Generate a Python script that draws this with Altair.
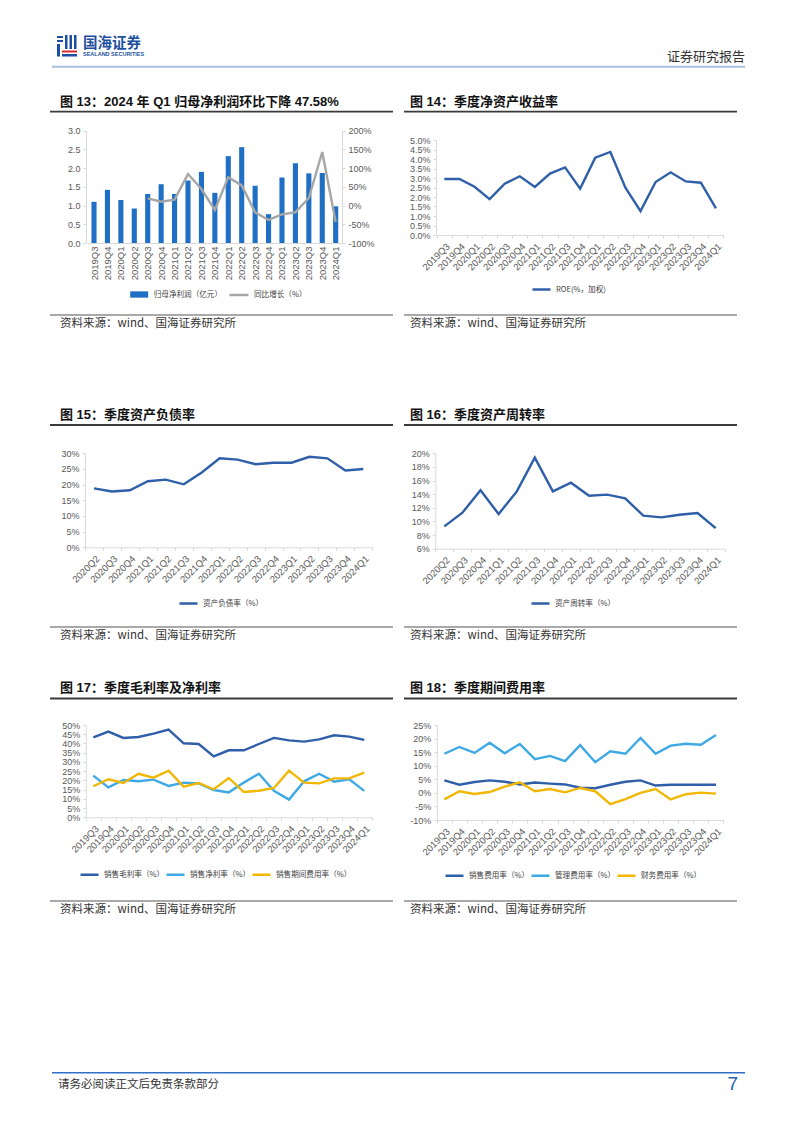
import altair as alt
import pandas as pd

FONT = "Liberation Sans, Noto Sans CJK SC, sans-serif"
CJK = "Noto Sans CJK SC, Liberation Sans, sans-serif"

# ---------------- data ----------------
Q19 = ["2019Q3", "2019Q4", "2020Q1", "2020Q2", "2020Q3", "2020Q4", "2021Q1", "2021Q2",
       "2021Q3", "2021Q4", "2022Q1", "2022Q2", "2022Q3", "2022Q4", "2023Q1", "2023Q2",
       "2023Q3", "2023Q4", "2024Q1"]
Q16 = Q19[3:]
YOY_Q = Q19[4:]

net_profit = [1.10, 1.42, 1.15, 0.92, 1.31, 1.57, 1.31, 1.67, 1.90, 1.34, 2.32, 2.56,
              1.53, 0.77, 1.75, 2.13, 1.86, 1.87, 0.98]
yoy = [19.3, 10.4, 15.8, 84.3, 44.2, -11.8, 75.4, 54.0, -18.0, -38.5, -23.4, -18.0,
       20.2, 143.0, -44.0]

roe = [2.95, 2.95, 2.54, 1.89, 2.70, 3.09, 2.53, 3.23, 3.56, 2.44, 4.07, 4.37, 2.49,
       1.26, 2.79, 3.30, 2.82, 2.75, 1.40]

debt_ratio = [18.8, 17.8, 18.2, 21.1, 21.6, 20.1, 23.9, 28.4, 28.0, 26.5, 27.0, 27.0,
              28.9, 28.4, 24.5, 25.0]
turnover = [9.28, 11.29, 14.57, 11.09, 14.37, 19.36, 14.42, 15.69, 13.78, 13.93, 13.39,
            10.85, 10.60, 10.99, 11.24, 9.03]

gross_margin = [43.3, 46.4, 43.0, 43.5, 45.3, 47.5, 40.1, 39.7, 33.0, 36.3, 36.3, 39.7,
                43.0, 41.7, 41.0, 42.2, 44.4, 43.7, 41.9]
net_margin = [22.6, 16.2, 20.2, 19.5, 20.4, 17.0, 18.8, 18.4, 14.8, 13.5, 18.8, 23.6,
              14.4, 9.6, 19.5, 23.6, 19.3, 20.6, 14.3]
period_exp = [16.8, 20.6, 18.6, 23.6, 21.5, 25.3, 16.6, 18.6, 15.2, 21.3, 13.7, 14.4,
              15.9, 25.3, 18.8, 18.4, 21.1, 21.1, 24.2]

sales_exp = [4.6, 3.0, 4.0, 4.6, 4.1, 3.1, 3.8, 3.4, 3.1, 1.9, 1.7, 3.0, 4.1, 4.6, 2.7,
             3.0, 3.0, 3.0, 3.0]
admin_exp = [14.4, 16.9, 14.7, 18.5, 14.6, 18.0, 12.4, 13.6, 11.7, 17.6, 11.3, 15.3,
             14.4, 20.2, 14.4, 17.4, 18.1, 17.7, 21.3]
fin_exp = [-2.4, 0.6, -0.4, 0.3, 2.3, 3.9, 0.6, 1.4, 0.2, 1.8, 0.6, -4.2, -2.3, 0.0,
           1.4, -2.4, -0.5, 0.1, -0.3]

S13 = ["归母净利润（亿元）", "同比增长（%）"]
S14 = ["ROE(%，加权)"]
S15 = ["资产负债率（%）"]
S16 = ["资产周转率（%）"]
S17 = ["销售毛利率（%）", "销售净利率（%）", "销售期间费用率（%）"]
S18 = ["销售费用率（%）", "管理费用率（%）", "财务费用率（%）"]

TITLES = ["图 13：2024 年 Q1 归母净利润环比下降 47.58%", "图 14：季度净资产收益率",
          "图 15：季度资产负债率", "图 16：季度资产周转率",
          "图 17：季度毛利率及净利率", "图 18：季度期间费用率"]
SOURCE = "资料来源：wind、国海证券研究所"

DARK = "#2E5FA8"
LIGHT = "#3FA9E5"
GOLD = "#F2B705"

# ---------------- helpers ----------------
W, H = 786, 1117
one = pd.DataFrame({"k": [0]})

AX = dict(title=None, grid=False, labelFont=FONT, labelColor="#595959",
          domainColor="#D9D9D9", domainWidth=1, tickColor="#D9D9D9",
          labelOverlap=False, labelBound=False, labelPadding=3)


def xenc(domain, rng, axis_y, angle, pi=0.0, ticks=True):
    return alt.X("q:N",
                 scale=alt.Scale(type="band", domain=domain, range=rng,
                                 paddingInner=pi, paddingOuter=pi / 2),
                 bandPosition=0.5,
                 axis=alt.Axis(orient="bottom", offset=axis_y - H, labelAngle=angle,
                               labelFontSize=9.5, ticks=ticks, tickSize=3,
                               tickBand="extent", **AX))


def yenc(domain, rng, values, axis_x, orient="left", fmt=None, expr=None):
    kw = dict(AX)
    if fmt:
        kw["format"] = fmt
    if expr:
        kw["labelExpr"] = expr
    off = -axis_x if orient == "left" else axis_x - W
    return alt.Y("v:Q", scale=alt.Scale(domain=domain, range=rng, nice=False, zero=False),
                 axis=alt.Axis(orient=orient, offset=off, values=values, tickSize=3,
                               labelFontSize=9, **kw))


def leg(x, y, stype, size=324):
    return alt.Legend(orient="none", legendX=x, legendY=y, direction="horizontal",
                      title=None, labelFont=CJK, labelFontSize=7.6, labelColor="#404040",
                      symbolType=stype, symbolSize=size, symbolStrokeWidth=2.5,
                      labelOffset=4, columnPadding=-5, padding=0, rowPadding=0,
                      gridAlign="each")


def long_df(q, names, series):
    rows = []
    for n, vals in zip(names, series):
        for qq, v in zip(q, vals):
            rows.append({"q": qq, "s": n, "v": v})
    return pd.DataFrame(rows)


def line_panel(df, names, colors, xdom, xr, yr, ydom, yvals, axis_x, expr, lx, ly):
    x = xenc(xdom, xr, yr[0], -45)
    y = yenc(ydom, yr, yvals, axis_x, expr=expr)
    return alt.Chart(df).mark_line(strokeWidth=2.4).encode(
        x=x, y=y,
        color=alt.Color("s:N", sort=names,
                        scale=alt.Scale(domain=names, range=colors),
                        legend=leg(lx, ly, "stroke")))


def txt(s, x, y, size, color="#1A1A1A", weight="normal", align="left", font=FONT):
    return alt.Chart(one).mark_text(text=s, align=align, baseline="middle", fontSize=size,
                                    color=color, fontWeight=weight, font=font).encode(
        x=alt.value(x), y=alt.value(y))


def hrule(x1, x2, y, color, width):
    return alt.Chart(one).mark_rule(color=color, strokeWidth=width).encode(
        x=alt.value(x1), x2=alt.value(x2), y=alt.value(y))


def box(x1, x2, y1, y2, color):
    return alt.Chart(one).mark_rect(color=color).encode(
        x=alt.value(x1), x2=alt.value(x2), y=alt.value(y1), y2=alt.value(y2))


layers = []

# ---------------- header ----------------
LOGO = "#1D4FA0"
layers += [
    box(49, 55, 28, 30, LOGO), box(49, 55, 32, 34, LOGO), box(49, 52, 36, 48.5, LOGO),
    box(57, 59.5, 27, 41, LOGO), box(61.5, 64, 27, 41, LOGO), box(66, 68.5, 27, 41, LOGO),
    box(54, 69, 42.5, 44.5, "#D7282F"), box(54, 69, 46, 48.5, LOGO),
    txt("国海证券", 75, 35.5, 14.5, LOGO, "bold", font=CJK),
    txt("SEALAND SECURITIES", 75, 45.5, 5.5, LOGO, "bold"),
    txt("证券研究报告", 737, 48.5, 13, "#333333", align="right", font=CJK),
    hrule(44, 737, 58.7, "#A9BFE0", 2),
]

# ---------------- titles / source lines ----------------
rows = [(93.7, 103.7, 307, 316.3), (406.5, 417, 619, 628), (680, 690.5, 893, 902)]
for i, (ty, tl, sl, sy) in enumerate(rows):
    layers += [
        txt(TITLES[2 * i], 52, ty, 13, "#111111", "bold"),
        txt(TITLES[2 * i + 1], 402, ty, 13, "#111111", "bold"),
        hrule(42, 385, tl, "#3A3A3A", 1.8), hrule(396, 729, tl, "#3A3A3A", 1.8),
        hrule(42, 385, sl, "#8C8C8C", 1.5), hrule(396, 729, sl, "#8C8C8C", 1.5),
        txt(SOURCE, 52, sy, 11.5, "#333333", font=CJK),
        txt(SOURCE, 402, sy, 11.5, "#333333", font=CJK),
    ]

# ---------------- footer ----------------
layers += [
    hrule(44, 737, 1064.7, "#2F6FC8", 1.5),
    txt("请务必阅读正文后免责条款部分", 50, 1076.5, 11.5, "#333333", font=CJK),
    txt("7", 730, 1076, 19, "#1F62B5", align="right"),
]

# ---------------- chart 13 ----------------
df13a = pd.DataFrame({"q": Q19, "v": net_profit, "s": S13[0]})
df13b = pd.DataFrame({"q": YOY_Q, "v": yoy, "s": S13[1]})
x13 = xenc(Q19, [79.3, 334.4], 235, -90, pi=0.62, ticks=False)
bars13 = alt.Chart(df13a).mark_bar(color="#1F6FC5").encode(
    x=x13,
    y=yenc([0, 3], [235, 122.7], [0, 0.5, 1, 1.5, 2, 2.5, 3], 78, fmt=".1f"),
    color=alt.Color("s:N", scale=alt.Scale(domain=[S13[0]], range=["#1F6FC5"]),
                    legend=leg(120.7, 276, "M-1,-0.35H1V0.35H-1Z")))
line13 = alt.Chart(df13b).mark_line(strokeWidth=2.4).encode(
    x=x13,
    y=yenc([-100, 200], [235, 122.7], [-100, -50, 0, 50, 100, 150, 200], 334,
           orient="right", expr="datum.value + '%'"),
    color=alt.Color("s:N", scale=alt.Scale(domain=[S13[1]], range=["#A6A6A6"]),
                    legend=leg(220, 276, "stroke", 361)))
p13 = alt.layer(bars13, line13).resolve_scale(y="independent", color="independent")
layers.append(p13)

# ---------------- chart 14 ----------------
layers.append(line_panel(long_df(Q19, S14, [roe]), S14, [DARK], Q19, [428.8, 715.5],
                         [227, 132], [0, 5], [0, 0.5, 1, 1.5, 2, 2.5, 3, 3.5, 4, 4.5, 5],
                         428, "format(datum.value, '.1f') + '%'", 523, 271))

# ---------------- chart 15 ----------------
layers.append(line_panel(long_df(Q16, S15, [debt_ratio]), S15, [DARK], Q16, [77, 364.3],
                         [539.3, 445.3], [0, 30], [0, 5, 10, 15, 20, 25, 30],
                         77, "datum.value + '%'", 170, 585))

# ---------------- chart 16 ----------------
layers.append(line_panel(long_df(Q16, S16, [turnover]), S16, [DARK], Q16, [427.3, 716.7],
                         [540.7, 445.3], [6, 20], [6, 8, 10, 12, 14, 16, 18, 20],
                         427.3, "datum.value + '%'", 522, 585))

# ---------------- chart 17 ----------------
layers.append(line_panel(long_df(Q19, S17, [gross_margin, net_margin, period_exp]), S17,
                         [DARK, LIGHT, GOLD], Q19, [77.8, 363.8], [809.3, 717], [0, 50],
                         [0, 5, 10, 15, 20, 25, 30, 35, 40, 45, 50], 77.8,
                         "datum.value + '%'", 71, 856))

# ---------------- chart 18 ----------------
layers.append(line_panel(long_df(Q19, S18, [sales_exp, admin_exp, fin_exp]), S18,
                         [DARK, LIGHT, GOLD], Q19, [428.8, 715.5], [812, 717], [-10, 25],
                         [-10, -5, 0, 5, 10, 15, 20, 25], 428.8,
                         "datum.value + '%'", 436, 857))

chart = alt.layer(*layers).resolve_scale(
    x="independent", y="independent", color="independent"
).properties(
    width=W, height=H, padding=0, autosize=alt.AutoSizeParams(type="none")
).configure_view(stroke=None)

chart.save("out.html", embed_options={"renderer": "svg", "actions": False})
